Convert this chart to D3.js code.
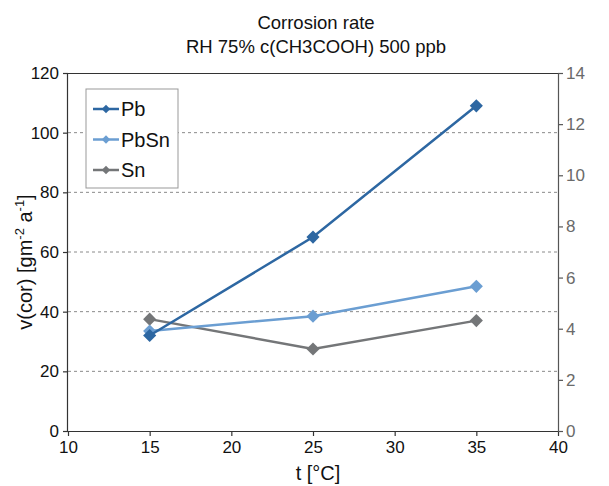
<!DOCTYPE html>
<html>
<head>
<meta charset="utf-8">
<script src="https://cdn.jsdelivr.net/npm/d3@7"></script>
<style>
  body { margin: 0; background: #fff; }
  svg text { font-family: "Liberation Sans", Arial, sans-serif; }
</style>
</head>
<body>
<div id="chart"></div>
<script>
// data
const temps = [15, 25, 35];
const pb = [32, 65, 109];
const pbsn = [33.5, 38.5, 48.5];
const sn = [37.5, 27.5, 37];
const seriesNames = ["Pb", "PbSn", "Sn"];
const seriesColors = ["#2d67a2", "#6b9ed2", "#747678"];
const xTicks = [10, 15, 20, 25, 30, 35, 40];
const yTicks = [0, 20, 40, 60, 80, 100, 120];
const y2Ticks = [0, 2, 4, 6, 8, 10, 12, 14];

const margin = { top: 73, right: 51, bottom: 55, left: 68 },
  width = 609 - margin.left - margin.right,
  height = 486 - margin.top - margin.bottom;

const svg = d3
  .select("#chart")
  .append("svg")
  .attr("width", 609)
  .attr("height", 486);

const g = svg
  .append("g")
  .attr("transform", `translate(${margin.left},${margin.top})`);

const x = d3.scaleLinear().domain([10, 40]).range([0, width]);
const y = d3.scaleLinear().domain([0, 120]).range([height, 0]);
const y2 = d3.scaleLinear().domain([0, 14]).range([height, 0]);

// dotted gridlines
g.append("g")
  .selectAll("line")
  .data(yTicks.filter((d) => d > 0 && d < 120))
  .join("line")
  .attr("x1", 0)
  .attr("x2", width)
  .attr("y1", (d) => y(d))
  .attr("y2", (d) => y(d))
  .attr("stroke", "#8a8a8a")
  .attr("stroke-width", 1)
  .attr("stroke-dasharray", "3,3");

// top frame line
g.append("line")
  .attr("x1", 0)
  .attr("x2", width)
  .attr("y1", 0.5)
  .attr("y2", 0.5)
  .attr("stroke", "#333");

// axes
const xAxis = g
  .append("g")
  .attr("transform", `translate(0,${height})`)
  .call(d3.axisBottom(x).tickValues(xTicks).tickSize(5).tickPadding(5));

const yAxis = g
  .append("g")
  .call(d3.axisLeft(y).tickValues(yTicks).tickSize(5).tickPadding(4));

const y2Axis = g
  .append("g")
  .attr("transform", `translate(${width},0)`)
  .call(d3.axisRight(y2).tickValues(y2Ticks).tickSize(5).tickPadding(3));

[xAxis, yAxis].forEach((a) => {
  a.selectAll("path, line").attr("stroke", "#333").attr("stroke-width", 1.2);
  a.selectAll("text").attr("fill", "#111").style("font-size", "17px");
});
y2Axis.selectAll("path, line").attr("stroke", "#555").attr("stroke-width", 1.2);
y2Axis.selectAll("text").attr("fill", "#6a6a6a").style("font-size", "17px");
xAxis.select(".domain").attr("d", `M0,0.5H${width}`);
yAxis.select(".domain").attr("d", `M-0.5,0V${height}`);
y2Axis.select(".domain").attr("d", `M0.5,0V${height}`);

// series lines and markers
const allSeries = [pb, pbsn, sn];
const line = d3
  .line()
  .x((d, i) => x(temps[i]))
  .y((d) => y(d));
const diamond = d3.symbol().type(d3.symbolDiamond2).size(110);

// draw in reverse so Pb sits on top
[2, 1, 0].forEach((k) => {
  g.append("path")
    .datum(allSeries[k])
    .attr("d", line)
    .attr("fill", "none")
    .attr("stroke", seriesColors[k])
    .attr("stroke-width", 2.5);
  g.append("g")
    .selectAll("path")
    .data(allSeries[k])
    .join("path")
    .attr("transform", (d, i) => `translate(${x(temps[i])},${y(d)})`)
    .attr("d", diamond)
    .attr("fill", seriesColors[k]);
});

// legend
const legend = svg.append("g").attr("transform", "translate(86,89)");
legend
  .append("rect")
  .attr("width", 92)
  .attr("height", 99)
  .attr("fill", "#fff")
  .attr("stroke", "#999")
  .attr("stroke-width", 1);
seriesNames.forEach((name, i) => {
  const row = legend.append("g").attr("transform", `translate(0,${20 + i * 30.5})`);
  row.append("line")
    .attr("x1", 7)
    .attr("x2", 33)
    .attr("stroke", seriesColors[i])
    .attr("stroke-width", 2.5);
  row.append("path")
    .attr("transform", "translate(20,0)")
    .attr("d", d3.symbol().type(d3.symbolDiamond2).size(45))
    .attr("fill", seriesColors[i]);
  row.append("text")
    .attr("x", 35)
    .attr("y", 7)
    .style("font-size", "20px")
    .attr("fill", "#111")
    .text(name);
});

// titles
svg.append("text")
  .attr("x", 316)
  .attr("y", 29)
  .style("text-anchor", "middle")
  .style("font-size", "18.5px")
  .attr("fill", "#111")
  .text("Corrosion rate");
svg.append("text")
  .attr("x", 316)
  .attr("y", 53)
  .style("text-anchor", "middle")
  .style("font-size", "18.5px")
  .attr("fill", "#111")
  .text("RH 75% c(CH3COOH) 500 ppb");

// x axis label
svg.append("text")
  .attr("x", 318)
  .attr("y", 480)
  .style("text-anchor", "middle")
  .style("font-size", "20px")
  .attr("fill", "#111")
  .text("t [°C]");

// y axis label with superscripts
const yl = svg.append("text")
  .attr("transform", `translate(32,262) rotate(-90)`)
  .style("text-anchor", "middle")
  .style("font-size", "20px")
  .attr("fill", "#111");
yl.append("tspan").text("v(cor) [gm");
yl.append("tspan").attr("dy", -8).style("font-size", "13px").text("-2");
yl.append("tspan").attr("dy", 8).text(" a");
yl.append("tspan").attr("dy", -8).style("font-size", "13px").text("-1");
yl.append("tspan").attr("dy", 8).text("]");
</script>
</body>
</html>
